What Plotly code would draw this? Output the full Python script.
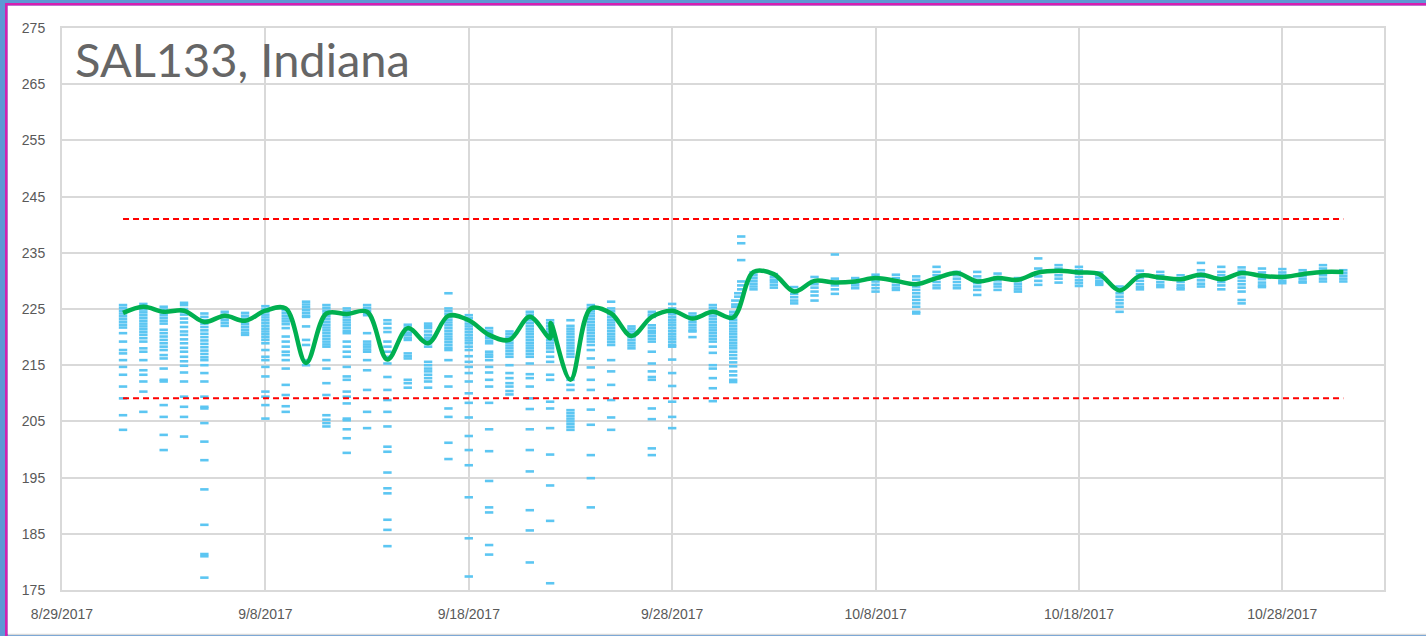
import plotly.graph_objects as go
from datetime import datetime, timedelta

# ---------------- data ----------------
start_day = datetime(2017, 9, 1)
n_days = 61  # 9/1/2017 .. 10/31/2017

day_readings = [
    [225.7,225.2,224.7,224.2,223.7,223.2,222.7,222.2,221.7,220.7,219.2,217.7,217.1,215.9,214.7,213.3,211.2,209.1,206.1,203.5],
    [225.9,225.4,224.9,224.4,223.9,223.4,222.9,222.4,221.9,221.4,220.9,220.4,219.8,219.2,218.0,217.4,215.9,214.1,213.3,212.1,210.3,206.7],
    [225.4,224.9,224.4,223.9,223.4,222.9,222.4,221.3,220.7,220.1,219.5,218.9,218.3,217.7,216.8,216.2,214.4,212.4,212.1,207.9,205.8,202.6,199.9],
    [226.1,225.7,225.0,224.5,224.0,223.3,222.6,221.8,221.0,220.4,219.6,218.9,218.1,217.4,216.5,215.7,214.9,213.7,212.1,209.4,207.6,205.8,202.3],
    [224.2,223.6,223.0,222.4,221.8,221.2,220.6,220.0,219.4,218.8,218.2,217.6,217.0,216.4,215.9,215.0,213.6,212.1,209.4,207.6,207.3,204.7,201.4,198.1,192.9,186.6,181.4,181.0,177.2],
    [224.5,224.0,223.5,223.0,222.5,222.0],
    [224.3,223.8,223.3,222.8,222.3,221.8,221.3,220.8,220.4],
    [225.5,225.0,224.5,224.0,223.5,223.0,222.5,222.0,221.5,221.0,220.5,220.0,219.5,218.9,217.7,216.5,215.9,214.7,213.0,210.3,209.4,207.9,205.5],
    [224.8,224.3,223.8,223.3,222.8,222.3,221.6,220.1,219.2,218.3,217.4,216.8,215.9,214.4,211.5,209.7,207.7,206.7],
    [226.3,225.8,225.3,224.8,224.3,223.8,223.6,221.9,219.5,218.6,215.9,215.0],
    [225.7,225.2,224.7,224.2,223.7,223.2,222.7,222.2,221.7,221.2,220.7,220.2,219.7,219.2,218.7,218.3,215.9,214.4,211.8,209.7,206.1,205.3,204.7,204.1],
    [225.1,224.6,224.1,223.6,223.1,222.6,222.1,221.6,221.1,220.7,219.2,218.3,217.4,216.5,214.7,213.0,212.4,210.3,209.4,208.2,205.5,205.2,203.6,202.0,199.4],
    [225.7,225.2,224.7,224.2,223.9,220.7,219.2,218.7,218.3,217.8,217.4,215.9,214.1,210.6,206.7,203.8],
    [223.0,222.4,221.6,220.9,219.2,218.3,217.4,216.5,215.3,212.9,210.6,208.8,206.7,204.1,200.5,199.6,195.9,193.1,192.2,187.5,185.7,182.8],
    [222.2,221.7,221.3,220.8,220.4,219.9,219.5,217.1,216.6,216.2,212.4,211.8,211.0],
    [222.4,222.0,221.6,221.0,220.4,219.9,219.5,218.9,218.3,215.6,215.0,214.4,213.9,213.3,212.7,212.1,211.0],
    [227.8,225.1,224.6,224.1,223.6,223.1,222.6,222.1,221.6,221.1,220.6,220.1,219.6,219.1,218.6,218.1,217.7,215.9,213.0,211.2,207.3,205.8,201.2,198.3],
    [223.9,223.4,222.9,222.4,221.9,221.4,220.9,220.4,219.9,219.4,218.9,218.3,217.7,216.6,215.6,214.7,213.6,212.1,210.0,208.3,205.7,202.4,199.9,197.2,191.5,184.2,177.4],
    [221.6,221.1,220.7,220.2,219.8,219.3,218.9,217.4,216.9,216.5,215.9,214.7,213.7,212.4,211.2,208.3,203.6,199.7,194.4,189.7,188.8,183.0,181.3],
    [221.0,220.5,220.0,219.5,219.0,218.5,218.0,217.5,217.0,216.5,215.0,213.6,212.7,211.8,211.2,210.4,209.8],
    [224.5,224.0,223.5,223.0,222.5,222.0,221.5,221.0,220.5,220.0,219.5,219.0,218.5,218.0,217.5,217.0,216.5,215.3,213.4,212.7,211.2,209.1,207.2,203.6,199.9,196.1,189.2,185.6,179.9],
    [223.0,222.5,222.0,221.5,221.0,220.5,220.0,219.5,219.0,218.5,218.0,217.4,216.5,215.6,213.3,212.4,208.5,207.3,203.8,199.1,193.6,187.3,176.2],
    [223.0,222.0,221.5,221.0,220.5,220.0,219.5,219.0,218.5,218.0,217.5,217.0,216.5,212.4,211.5,210.6,207.0,206.5,206.0,205.5,205.0,204.5,204.0,203.5],
    [225.7,225.2,224.7,224.2,223.7,223.2,222.7,222.2,221.7,221.2,220.7,220.2,219.7,219.2,218.6,217.7,216.2,214.6,212.4,210.6,207.1,204.4,199.0,194.9,189.7],
    [226.3,225.1,224.6,224.1,223.6,223.1,222.6,222.1,221.6,221.1,220.6,220.1,219.6,219.1,218.6,215.9,213.9,211.5,208.8,205.7,203.5],
    [221.9,221.5,221.0,220.5,220.0,219.5,219.0,218.5,218.0],
    [224.5,224.0,223.6,222.1,221.6,221.1,220.7,220.2,219.7,219.2,217.4,215.3,213.9,212.9,212.4,207.3,205.4,200.2,199.0],
    [225.9,225.1,224.6,224.1,223.6,223.1,222.6,222.1,221.6,221.1,220.6,220.1,219.6,219.1,218.6,218.3,216.0,213.6,211.3,208.5,205.8,203.8],
    [224.2,223.7,223.2,222.7,222.2,221.7,221.2,221.0,220.0],
    [225.7,225.2,224.7,224.2,223.7,223.2,222.7,222.2,221.7,221.2,220.7,220.2,219.7,219.2,218.3,217.2,215.0,214.4,212.7,210.9,208.6],
    [224.5,224.0,223.5,223.0,222.5,222.0,221.5,221.0,220.5,220.0,219.5,219.0,218.5,218.0,217.4,216.8,216.2,215.5,214.8,213.9,213.2,212.4,212.0],
    [231.5,231.0,230.5,230.0,229.5,229.0,228.5],
    [231.2,230.7,230.2,229.8,229.3,228.8],
    [228.9,228.3,227.7,227.1,226.5,226.0],
    [230.7,230.0,229.4,228.8,228.1,227.4,226.5],
    [234.7,230.4,229.8,229.2,228.5,227.7],
    [230.5,230.0,229.6,229.2,228.7],
    [231.1,230.5,229.9,229.3,228.7,228.1],
    [231.1,230.5,229.9,229.3,228.8,228.4],
    [230.8,230.2,229.6,229.0,228.4,227.8,227.2,226.6,226.0,225.4,224.5,224.2],
    [232.5,231.6,231.0,230.4,229.8,229.2,228.7],
    [231.6,231.0,230.4,229.8,229.2,228.7],
    [231.6,230.8,230.2,229.6,229.0,228.4,227.5],
    [231.3,230.7,230.1,229.5,229.0,228.4],
    [230.5,230.0,229.5,229.0,228.5,228.1],
    [234.0,232.2,231.5,230.8,230.0,229.3],
    [232.8,232.2,231.6,231.0,230.4,229.7],
    [232.5,231.9,231.3,230.7,230.1,229.6,229.1],
    [231.5,231.0,230.5,230.0,229.6,229.3],
    [229.0,228.4,227.8,227.2,226.6,226.0,225.4,224.5],
    [231.8,231.2,230.6,230.0,229.4,228.9,228.5],
    [231.6,231.0,230.4,229.8,229.3,228.9],
    [231.0,230.4,229.8,229.2,228.8,228.5],
    [233.2,231.9,231.3,230.7,230.1,229.5,229.0],
    [232.5,231.6,231.0,230.4,229.8,229.2,228.5],
    [232.4,231.8,231.2,230.6,230.0,229.4,228.8,228.1,226.6,226.0],
    [232.2,231.5,230.9,230.3,229.7,229.2,228.9],
    [232.1,231.5,231.0,230.5,230.0,229.6],
    [231.9,231.4,230.9,230.4,229.9,229.7],
    [232.8,232.2,231.6,231.0,230.4,229.9],
    [231.9,231.4,230.9,230.4,229.9],
]

# readings taken later during 10/1/2017 (the level change)
transition_times = ["2017-10-01 02:30"] * 3 + ["2017-10-01 06:00"] * 2 + ["2017-10-01 09:30"] * 6
transition_values = [226.5, 225.8, 225.4, 227.8, 227.2, 237.9, 236.7, 233.7, 229.9, 229.2, 228.5]

# smoothed daily trend (one value per day, plus an extra sample on 9/22)
trend_times = [(start_day + timedelta(days=i)).strftime("%Y-%m-%d") for i in range(22)] + \
              ["2017-09-22 00:45"] + \
              [(start_day + timedelta(days=i)).strftime("%Y-%m-%d") for i in range(22, 61)]
trend_values = [224.3,225.4,224.5,224.7,222.7,223.8,222.9,224.7,225.1,215.4,
                224.2,224.1,224.5,216.0,221.6,218.9,223.8,223.0,220.4,219.5,
                223.6,219.8,222.5,212.4,225.1,224.2,220.2,223.6,224.7,223.3,
                224.5,223.5,231.6,231.2,228.1,230.0,229.7,229.9,230.5,230.0,
                229.4,230.5,231.4,229.9,230.5,230.2,231.5,231.8,231.5,231.2,
                228.3,230.9,230.6,230.3,231.1,230.3,231.4,230.9,230.7,231.2,
                231.6,231.6]

upper_limit = 241.0
lower_limit = 209.1
limit_span = ["2017-09-01", "2017-10-31"]

y_ticks = [175, 185, 195, 205, 215, 225, 235, 245, 255, 265, 275]
title_text = "SAL133, Indiana"

# ---------------- build ----------------
pts_x, pts_y = [], []
for i, vals in enumerate(day_readings):
    d = (start_day + timedelta(days=i)).strftime("%Y-%m-%d")
    for v in vals:
        pts_x.append(d)
        pts_y.append(v)
pts_x += transition_times
pts_y += transition_values

fig = go.Figure()
fig.add_trace(go.Scatter(
    x=pts_x, y=pts_y, mode="markers",
    marker=dict(symbol="line-ew", size=6, color="#5cc6f2",
                line=dict(color="#5cc6f2", width=2.6)),
    hoverinfo="x+y", showlegend=False))
for lim in (upper_limit, lower_limit):
    fig.add_trace(go.Scatter(
        x=limit_span, y=[lim, lim], mode="lines",
        line=dict(color="#ff0000", width=2, dash="6px,4px"),
        showlegend=False, hoverinfo="skip"))
fig.add_trace(go.Scatter(
    x=trend_times, y=trend_values, mode="lines",
    line=dict(color="#00b050", width=4.5, shape="spline", smoothing=1),
    showlegend=False))

W, H = 1426, 636
L, R, T, B = 62, 42, 28, 46
pw, ph = W - L - R, H - T - B


def px(x):
    return (x - L) / pw


def py(y):
    return (H - B - y) / ph


shapes = [
    # white slide panel over the blue background
    dict(type="rect", xref="paper", yref="paper", x0=px(7.5), x1=px(W + 10), y0=py(634), y1=py(5.5),
         fillcolor="white", line=dict(width=0), layer="below"),
    dict(type="line", xref="paper", yref="paper", x0=px(6.3), x1=px(6.3), y0=py(3.5), y1=py(H + 5),
         line=dict(color="#d61eb0", width=2.5), layer="below"),
    dict(type="line", xref="paper", yref="paper", x0=px(5.2), x1=px(W + 10), y0=py(4.3), y1=py(4.3),
         line=dict(color="#d61eb0", width=2.5), layer="below"),
    dict(type="line", xref="paper", yref="paper", x0=px(8), x1=px(W + 10), y0=py(634.5), y1=py(634.5),
         line=dict(color="#d9d9d9", width=1.5), layer="below"),
]

fig.update_layout(
    width=W, height=H,
    margin=dict(l=L, r=R, t=T, b=B),
    paper_bgcolor="#5e97d4", plot_bgcolor="white",
    shapes=shapes,
    annotations=[dict(text=title_text, xref="paper", yref="paper",
                      x=px(73), y=py(29), xanchor="left", yanchor="top",
                      showarrow=False,
                      font=dict(family="Lato, sans-serif", size=47, color="#666666"))],
    xaxis=dict(type="date", range=["2017-08-29", "2017-11-02"],
               tick0="2017-08-29", dtick=10 * 86400000, tickformat="%-m/%-d/%Y",
               showgrid=True, gridcolor="#d9d9d9", gridwidth=1.5,
               showline=True, linecolor="#d9d9d9", linewidth=2, mirror=True,
               zeroline=False, ticks="", ticklabelstandoff=10,
               tickfont=dict(family="Liberation Sans, Arial, sans-serif", size=14, color="#595959")),
    yaxis=dict(range=[175, 275], tickvals=y_ticks,
               showgrid=True, gridcolor="#d9d9d9", gridwidth=1.5,
               showline=True, linecolor="#d9d9d9", linewidth=2, mirror=True,
               zeroline=False, ticks="", ticklabelstandoff=12,
               tickfont=dict(family="Liberation Sans, Arial, sans-serif", size=14, color="#595959")),
)

fig.write_html("out.html", config={"displayModeBar": False},
               post_script="document.body.style.margin='0';document.body.style.overflow='hidden';")
